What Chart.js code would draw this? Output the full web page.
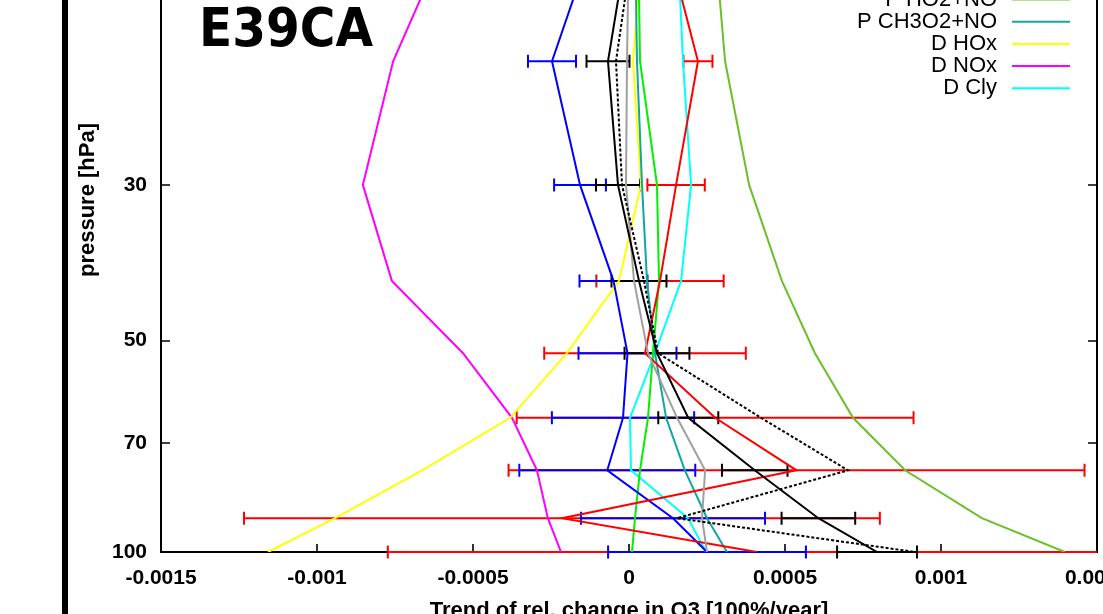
<!DOCTYPE html>
<html>
<head>
<meta charset="utf-8">
<script src="https://cdn.jsdelivr.net/npm/chart.js@4/dist/chart.umd.min.js"></script>
<style>
  html, body { margin: 0; padding: 0; background: #fff; }
  canvas { display: block; }
</style>
</head>
<body>
<canvas id="c" width="1103" height="614"></canvas>
<script>
// ---------- data ----------
const pressure = [13, 20, 30, 41.1, 52.1, 64.4, 76.5, 89.5, 100];

const totalTrend = [0.0000016, -0.0000673, -0.0000353, 0.000032, 0.0000897, 0.00019, 0.000403, 0.000607, 0.000795];
const totalErr   = [0.00007, 0.0000689, 0.0000705, 0.0000881, 0.000104, 0.0000962, 0.000105, 0.000118, 0.000128];
const sumTerms   = [0.0000192, -0.0000417, -0.0000224, 0.0000481, 0.000093, 0.000423, 0.000702, 0.000154, 0.000917];
const chemTerm   = [0, -0.0000064, -0.0000096, 0.000016, 0.0000609, 0.000154, 0.000244, 0.000234, 0.00025];
const redTerm    = [0.000112, 0.000221, 0.000151, 0.0000994, 0.0000513, 0.000276, 0.000537, -0.000215, 0.00041];
const redErr     = [0.00004, 0.0000465, 0.000092, 0.000204, 0.000323, 0.000636, 0.000923, 0.001019, 0.001183];
const blueTerm   = [-0.0001026, -0.0002468, -0.000157, -0.0000497, -0.0000048, -0.0000192, -0.0000696, 0.000141, 0.00025];
const blueErr    = [0.00008, 0.000077, 0.000083, 0.000109, 0.000157, 0.000228, 0.000282, 0.000295, 0.000317];
const pO2        = [0.0000288, 0.0000353, 0.0000897, 0.0000962, 0.0000769, 0.0000609, 0.0000353, 0.0000192, 0.0000096];
const pHO2NO     = [0.000272, 0.000308, 0.000385, 0.00049, 0.000596, 0.000718, 0.000885, 0.001131, 0.001397];
const pCH3O2NO   = [0.0000192, 0.0000256, 0.0000417, 0.0000577, 0.0000833, 0.000119, 0.000179, 0.00025, 0.000314];
const dHOx       = [0.0000481, 0.0000128, 0.0000385, -0.000032, -0.000199, -0.000381, -0.000663, -0.000942, -0.001157];
const dNOx       = [-0.000571, -0.000756, -0.000853, -0.00076, -0.000532, -0.000375, -0.000295, -0.00026, -0.000218];
const dCly       = [0.000154, 0.000173, 0.000199, 0.000167, 0.0000833, 0.0000032, 0.0000064, 0.000189, 0.000247];

const xTicks = [-0.0015, -0.001, -0.0005, 0, 0.0005, 0.001, 0.0015];
const yTicks = [30, 50, 70, 100];

const seriesLabels = ['total', 'sum', 'chem', 'dyn', 'res', 'P O2+hv',
                      'P HO2+NO', 'P CH3O2+NO', 'D HOx', 'D NOx', 'D Cly'];
const seriesValues = [totalTrend, sumTerms, chemTerm, redTerm, blueTerm, pO2,
                      pHO2NO, pCH3O2NO, dHOx, dNOx, dCly];
const seriesErrors = [totalErr, null, null, redErr, blueErr, null,
                      null, null, null, null, null];
const seriesColors = ['#000000', '#000000', '#a0a0a0', '#ff0000', '#0000ff', '#00f000',
                      '#6cbf2a', '#10a6a6', '#ffff00', '#ff00ff', '#00ffff'];
const seriesDash   = [[], [3, 2], [], [], [], [], [], [], [], [], []];

// ---------- build datasets ----------
const datasets = seriesLabels.map((lab, i) => ({
  label: lab,
  data: pressure.map((p, k) => ({ x: seriesValues[i][k], y: p })),
  errors: seriesErrors[i],
  showLine: true,
  borderColor: seriesColors[i],
  backgroundColor: seriesColors[i],
  borderWidth: 2,
  borderDash: seriesDash[i],
  pointRadius: 0,
  pointHoverRadius: 0,
  tension: 0,
  fill: false
}));

const FONT = "'Liberation Sans', Arial, sans-serif";

// ---------- plugins ----------
const framePlugin = {
  id: 'frame',
  beforeDraw(chart) {
    const ctx = chart.ctx;
    ctx.save();
    ctx.fillStyle = '#fff';
    ctx.fillRect(0, 0, chart.width, chart.height);
    ctx.fillStyle = '#000';
    ctx.fillRect(62, 0, 6, chart.height);
    ctx.restore();
  },
  beforeDatasetsDraw(chart) {
    const ctx = chart.ctx, a = chart.chartArea;
    const xs = chart.scales.x, ys = chart.scales.y;
    ctx.save();
    ctx.strokeStyle = '#000';
    ctx.lineWidth = 2;
    ctx.beginPath();
    ctx.moveTo(a.left, a.top - 5);
    ctx.lineTo(a.left, a.bottom);
    ctx.lineTo(a.right, a.bottom);
    ctx.lineTo(a.right, a.top - 5);
    ctx.stroke();
    ctx.lineWidth = 1.6;
    ctx.beginPath();
    xTicks.forEach(v => {
      const px = Math.round(xs.getPixelForValue(v));
      ctx.moveTo(px, a.bottom);
      ctx.lineTo(px, a.bottom - 8);
    });
    yTicks.forEach(v => {
      const py = Math.round(ys.getPixelForValue(v));
      ctx.moveTo(a.left, py);
      ctx.lineTo(a.left + 9, py);
      ctx.moveTo(a.right, py);
      ctx.lineTo(a.right - 9, py);
    });
    ctx.stroke();

    // error bars (red, then blue, then black on top)
    ctx.beginPath();
    ctx.rect(a.left, 0, a.right - a.left, chart.height);
    ctx.clip();
    const order = [3, 4, 0];
    order.forEach(i => {
      const ds = chart.data.datasets[i];
      if (!ds.errors) return;
      ctx.strokeStyle = ds.borderColor;
      ctx.lineWidth = 2;
      ctx.setLineDash([]);
      ds.data.forEach((pt, k) => {
        const e = ds.errors[k];
        const py = ys.getPixelForValue(pt.y);
        const x1 = xs.getPixelForValue(pt.x - e);
        const x2 = xs.getPixelForValue(pt.x + e);
        ctx.beginPath();
        ctx.moveTo(x1, py); ctx.lineTo(x2, py);
        ctx.moveTo(x1, py - 6.5); ctx.lineTo(x1, py + 6.5);
        ctx.moveTo(x2, py - 6.5); ctx.lineTo(x2, py + 6.5);
        ctx.stroke();
      });
    });
    ctx.restore();
  },
  afterDraw(chart) {
    const ctx = chart.ctx, a = chart.chartArea;
    ctx.save();
    // legend (right-aligned labels, line samples on the right)
    const ref = seriesLabels.indexOf('P HO2+NO');
    ctx.font = "22px " + FONT;
    ctx.textAlign = 'right';
    ctx.textBaseline = 'middle';
    chart.data.datasets.forEach((ds, i) => {
      const y = -0.5 + 22.2 * (i - ref);
      if (y < -20) return;
      ctx.fillStyle = '#000';
      ctx.fillText(ds.label, 997, y);
      ctx.strokeStyle = ds.borderColor;
      ctx.lineWidth = 2;
      ctx.setLineDash(ds.borderDash || []);
      ctx.beginPath();
      ctx.moveTo(1012, y); ctx.lineTo(1070, y);
      ctx.stroke();
    });
    ctx.setLineDash([]);
    // big panel title
    ctx.fillStyle = '#000';
    ctx.textAlign = 'left';
    ctx.textBaseline = 'alphabetic';
    ctx.font = "bold 54px 'DejaVu Sans Condensed', 'DejaVu Sans', sans-serif";
    ctx.fillText('E39CA', 199, 46);
    // axis titles
    ctx.font = "bold 22px " + FONT;
    ctx.textAlign = 'center';
    ctx.fillText('Trend of rel. change in O3 [100%/year]', (a.left + a.right) / 2, 617);
    ctx.translate(88, 200);
    ctx.rotate(-Math.PI / 2);
    ctx.textBaseline = 'middle';
    ctx.fillText('pressure [hPa]', 0, 0);
    ctx.restore();
  }
};

const chart = new Chart(document.getElementById('c'), {
  type: 'scatter',
  data: { datasets },
  options: {
    responsive: false,
    animation: false,
    devicePixelRatio: 1,
    layout: { autoPadding: false, padding: { left: 0, right: 6, top: 0, bottom: 0 } },
    plugins: { legend: { display: false }, tooltip: { enabled: false } },
    scales: {
      x: {
        type: 'linear',
        min: -0.0015, max: 0.0015,
        afterBuildTicks: s => { s.ticks = xTicks.map(v => ({ value: v })); },
        afterFit: s => { s.height = 62; s.paddingLeft = 0; s.paddingRight = 0; },
        grid: { display: false, drawTicks: false },
        border: { display: false },
        ticks: {
          autoSkip: false, maxRotation: 0, padding: 14, color: '#000',
          font: { family: FONT, weight: 'bold', size: 21 },
          callback: v => String(Number(Number(v).toFixed(4)))
        }
      },
      y: {
        type: 'logarithmic',
        reverse: true,
        min: 16.36, max: 100,
        afterBuildTicks: s => { s.ticks = yTicks.map(v => ({ value: v })); },
        afterFit: s => { s.width = 161; s.paddingTop = 0; s.paddingBottom = 0; },
        grid: { display: false, drawTicks: false },
        border: { display: false },
        ticks: {
          autoSkip: false, padding: 14, color: '#000',
          font: { family: FONT, weight: 'bold', size: 21 },
          callback: v => String(v)
        }
      }
    }
  },
  plugins: [framePlugin]
});
</script>
</body>
</html>
